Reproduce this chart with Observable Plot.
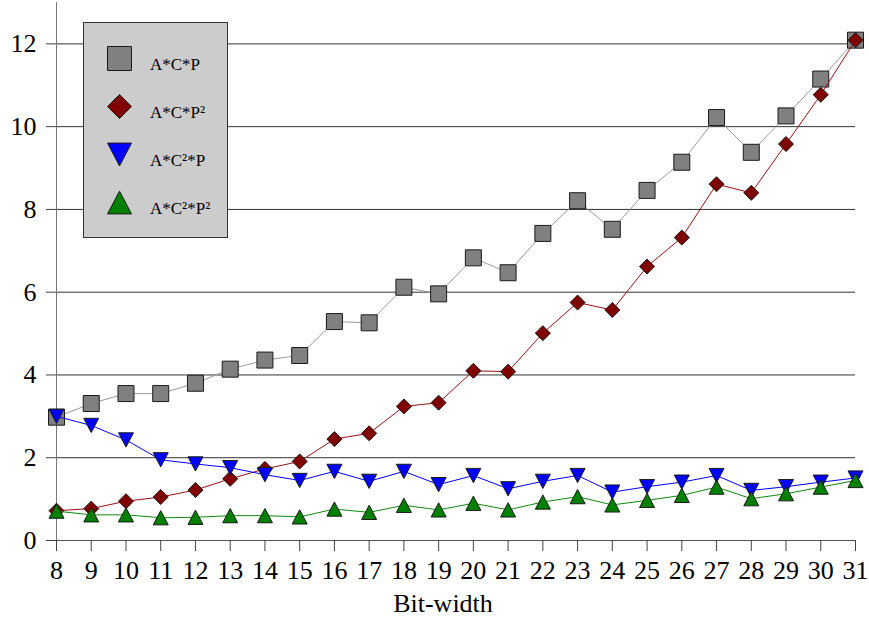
<!DOCTYPE html>
<html><head><meta charset="utf-8">
<script src="https://cdn.jsdelivr.net/npm/d3@7"></script>
<script src="https://cdn.jsdelivr.net/npm/@observablehq/plot@0.6"></script>
<style>body{margin:0;background:#fff} #chart{width:869px;height:617px}</style>
</head><body><div id="chart"></div>
<script>
const bits = [8,9,10,11,12,13,14,15,16,17,18,19,20,21,22,23,24,25,26,27,28,29,30,31];
const acp   = [2.98,3.31,3.55,3.55,3.80,4.14,4.36,4.47,5.29,5.26,6.12,5.96,6.83,6.47,7.42,8.21,7.52,8.46,9.14,10.22,9.38,10.26,11.15,12.09];
const acp2  = [0.72,0.77,0.95,1.05,1.22,1.49,1.73,1.91,2.45,2.59,3.24,3.33,4.10,4.08,5.01,5.75,5.57,6.62,7.32,8.61,8.40,9.58,10.77,12.09];
const ac2p  = [3.00,2.78,2.43,1.95,1.85,1.76,1.59,1.45,1.67,1.43,1.67,1.35,1.57,1.25,1.43,1.57,1.17,1.30,1.41,1.57,1.21,1.30,1.41,1.51];
const ac2p2 = [0.71,0.62,0.62,0.55,0.56,0.60,0.60,0.57,0.76,0.68,0.85,0.74,0.90,0.74,0.93,1.06,0.86,0.97,1.09,1.29,1.01,1.13,1.29,1.45];
const seriesNames = ["A*C*P","A*C*P²","A*C²*P","A*C²*P²"];
const yTicks = [0,2,4,6,8,10,12];
const gridTicks = [2,4,6,8,10,12];

const rad = s => Math.sqrt(s/Math.PI);
const squareSym = {draw(c,s){const h=rad(s); c.rect(-h,-h,2*h,2*h);}};
const diamondSym = {draw(c,s){const h=rad(s); c.moveTo(0,-h); c.lineTo(h,0); c.lineTo(0,h); c.lineTo(-h,0); c.closePath();}};
const downSym = {draw(c,s){const h=rad(s), k=0.95*h; c.moveTo(-h,-k); c.lineTo(h,-k); c.lineTo(0,k); c.closePath();}};
const upSym = {draw(c,s){const h=rad(s), k=0.95*h; c.moveTo(0,-k); c.lineTo(h,k); c.lineTo(-h,k); c.closePath();}};

const series = [
  {name: seriesNames[0], values: acp,   fill:"#808080", line:"#9a9a9a", symbol: squareSym,  r: 8},
  {name: seriesNames[1], values: acp2,  fill:"#800000", line:"#9a1010", symbol: diamondSym, r: 7.5},
  {name: seriesNames[2], values: ac2p,  fill:"#0000ff", line:"#0000ff", symbol: downSym,    r: 7.5},
  {name: seriesNames[3], values: ac2p2, fill:"#008000", line:"#108a10", symbol: upSym,      r: 7.5}
];

const seriesMarks = series.flatMap(s => {
  const rows = bits.map((b,i) => ({bit:b, v:s.values[i]}));
  return [
    Plot.line(rows, {x:"bit", y:"v", stroke:s.line, strokeWidth:1}),
    Plot.dot(rows, {x:"bit", y:"v", symbol:s.symbol, r:s.r, fill:s.fill, stroke:"#1a1a1a", strokeWidth:1})
  ];
});

const FONT = "'Liberation Serif', 'Times New Roman', 'DejaVu Serif', serif";

const svgEl = Plot.plot({
  width: 869, height: 617,
  marginLeft: 56, marginRight: 14, marginTop: 2, marginBottom: 77,
  style: {fontFamily: FONT, fontSize: "26px", background: "#fff", color: "#000"},
  x: {domain: [8, 31]},
  y: {domain: [0, 13]},
  marks: [
    Plot.ruleY(gridTicks, {stroke:"#333", strokeWidth:1}),
    Plot.ruleX([8], {stroke:"#777", strokeWidth:1}),
    Plot.ruleY([0], {stroke:"#555", strokeWidth:1}),
    Plot.axisY({ticks: yTicks, tickSize: 10, tickPadding: 10, label: null, stroke: "#444", fontSize: 26}),
    Plot.axisX({ticks: bits, tickSize: 11, tickPadding: 9, label: null, stroke: "#444", fontSize: 26, tickFormat: d => String(d)}),
    ...seriesMarks
  ]
});
document.getElementById("chart").appendChild(svgEl);

const svg = d3.select(svgEl);
svg.append("text")
  .attr("x", 443).attr("y", 612)
  .attr("text-anchor", "middle")
  .style("font-family", FONT).style("font-size", "26px").attr("fill", "#000")
  .text("Bit-width");

const lg = svg.append("g");
lg.append("rect")
  .attr("x", 83.5).attr("y", 22.5).attr("width", 144).attr("height", 215)
  .attr("fill", "#cccccc").attr("stroke", "#333").attr("stroke-width", 1);
series.forEach((s, i) => {
  lg.append("path")
    .attr("transform", `translate(119.5,${58.5 + i*48})`)
    .attr("d", d3.symbol(s.symbol, Math.PI*12*12)())
    .attr("fill", s.fill).attr("stroke", "#1a1a1a").attr("stroke-width", 1);
  lg.append("text")
    .attr("x", 150).attr("y", 70 + i*48)
    .attr("text-anchor", "start")
    .style("font-family", FONT).style("font-size", "17px").attr("fill", "#000")
    .text(s.name);
});
</script>
</body></html>
